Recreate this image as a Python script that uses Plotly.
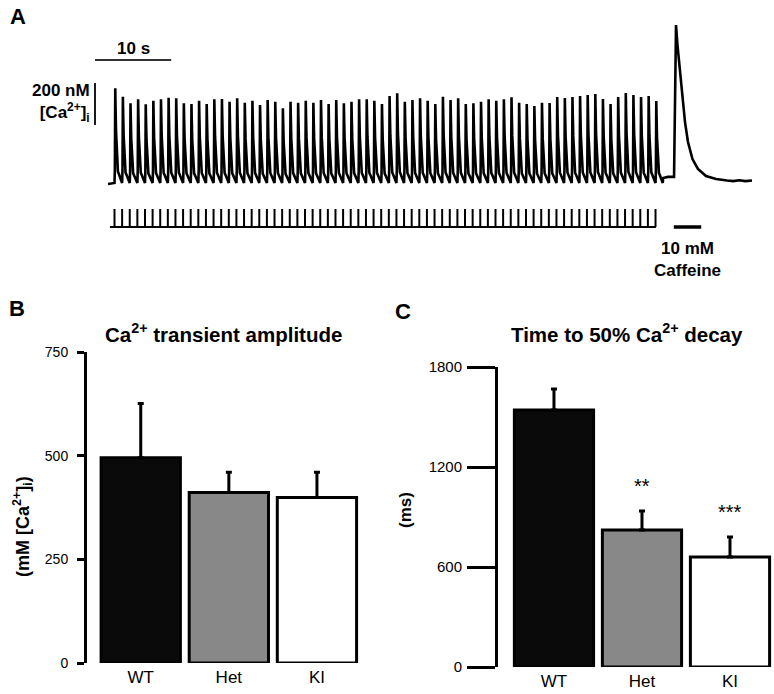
import plotly.graph_objects as go

W, H = 774, 694
FONT = "Liberation Sans, Arial, Helvetica, sans-serif"

# ---------------- Panel A data ----------------
N_BEATS = 72
PACING_INTERVAL_S = 1.0
beat_amp_nM = [451, 411, 380, 399, 375, 392, 399, 406, 403, 380, 376, 392, 376, 399, 400,
               387, 403, 382, 392, 371, 395, 387, 356, 387, 382, 392, 382, 395, 376, 395,
               380, 387, 399, 399, 392, 376, 414, 427, 387, 395, 403, 392, 376, 411, 395,
               403, 376, 380, 387, 399, 392, 399, 408, 382, 376, 367, 382,
               381, 410, 405, 410, 414, 419, 424, 400, 376, 410, 429, 419, 410, 414, 390]
# normalised shape of one paced transient (time after stimulus, fraction of peak)
beat_shape_t = [0.0, 0.05, 0.10, 0.14, 0.20, 0.28, 0.36, 0.45, 0.55, 0.68, 0.82, 0.95]
beat_shape_frac = [0.0, 0.15, 1.0, 0.80, 0.55, 0.33, 0.19, 0.12, 0.10, 0.07, 0.03, 0.0]
pre_t = [-0.85, -0.3]
pre_nM = [-5, 0]
caff_t = [72.0, 72.64, 73.43, 73.56, 73.69, 73.88, 74.21, 74.54, 74.87, 75.26, 75.85,
          76.57, 77.62, 78.94, 79.7, 80.4, 81.17, 82.0, 82.8, 83.66]
caff_nM = [24, 29, 29, 395, 752, 657, 529, 400, 290, 195, 114,
           67, 33, 19, 14, 12, 9, 13, 9, 12]
caff_on_s, caff_off_s = 73.4, 77.0
scale_time_s = 10
scale_ca_nM = 200

# ---------------- Panels B / C data ----------------
groups = ["WT", "Het", "KI"]
amp_mean = [495, 411, 399]
amp_sem = [131, 49, 61]
decay_mean = [1542, 822, 660]
decay_sem = [126, 114, 120]
stars = ["", "**", "***"]
bar_colors = ["#0a0a0a", "#888888", "#ffffff"]

# ---------------- layout helpers ----------------
def fx(px):
    return px / W

def fy(py):
    return 1 - py / H

# panel A pixel mapping
A_T0_PX, A_PX_PER_S = 114.5, 7.62
A_BASE_PY, A_PX_PER_NM = 183, 0.21
A_BOT_PY = 290
STIM_Y = -(227 - A_BASE_PY) / A_PX_PER_NM
STIM_H = 18 / A_PX_PER_NM
SB_X = (95 - A_T0_PX) / A_PX_PER_S
SB_VBOT = (A_BASE_PY - 125) / A_PX_PER_NM
SB_HY = (A_BASE_PY - 60) / A_PX_PER_NM

# build the paced trace
tx, ty = list(pre_t), list(pre_nM)
for k in range(N_BEATS):
    for ts, fr in zip(beat_shape_t, beat_shape_frac):
        tx.append(k * PACING_INTERVAL_S + ts)
        ty.append(beat_amp_nM[k] * fr)
tx += caff_t
ty += caff_nM

# stimulus marker trace
sx = [-0.6, (N_BEATS - 1) * PACING_INTERVAL_S + 0.05, None]
sy = [STIM_Y, STIM_Y, None]
for k in range(N_BEATS):
    sx += [k * PACING_INTERVAL_S, k * PACING_INTERVAL_S, None]
    sy += [STIM_Y, STIM_Y + STIM_H, None]

fig = go.Figure()

fig.add_trace(go.Scatter(x=tx, y=ty, mode="lines", line=dict(color="black", width=2.6),
                         xaxis="x3", yaxis="y3", hoverinfo="skip"))
fig.add_trace(go.Scatter(x=sx, y=sy, mode="lines", line=dict(color="black", width=2),
                         xaxis="x3", yaxis="y3", hoverinfo="skip"))
# caffeine application bar
fig.add_trace(go.Scatter(x=[caff_on_s, caff_off_s], y=[STIM_Y, STIM_Y], mode="lines",
                         line=dict(color="black", width=3.5), xaxis="x3", yaxis="y3"))
# scale bars
fig.add_trace(go.Scatter(x=[SB_X, SB_X + scale_time_s], y=[SB_HY, SB_HY], mode="lines",
                         line=dict(color="#333", width=1.8), xaxis="x3", yaxis="y3"))
fig.add_trace(go.Scatter(x=[SB_X, SB_X], y=[SB_VBOT, SB_VBOT + scale_ca_nM], mode="lines",
                         line=dict(color="black", width=1.8), xaxis="x3", yaxis="y3"))

# bar charts
for xa, ya, mean, sem in (("x", "y", amp_mean, amp_sem), ("x2", "y2", decay_mean, decay_sem)):
    fig.add_trace(go.Bar(
        x=groups, y=mean, xaxis=xa, yaxis=ya, width=0.9,
        marker=dict(color=bar_colors, line=dict(color="black", width=3)),
        error_y=dict(type="data", array=sem, arrayminus=[0] * len(sem), symmetric=False,
                     thickness=3, width=3, color="black"),
        hoverinfo="skip"))

ann = []
def txt(px, py, text, size, bold=True, **kw):
    t = f"<b>{text}</b>" if bold else text
    d = dict(x=fx(px), y=fy(py), xref="paper", yref="paper", text=t, showarrow=False,
             font=dict(family=FONT, size=size, color="black"), xanchor="center", yanchor="middle")
    d.update(kw)
    ann.append(d)

txt(18, 17, "A", 22)
txt(17, 308, "B", 22)
txt(403, 311, "C", 22)
txt(224, 333, "Ca<sup>2+</sup> transient amplitude", 20.5)
txt(627, 333, "Time to 50% Ca<sup>2+</sup> decay", 20.5)
txt(22, 527, "(mM [Ca<sup>2+</sup>]<sub>i</sub>)", 18, textangle=-90)
txt(405, 510, "(ms)", 17, textangle=-90)

# panel A labels tied to data coordinates
ann.append(dict(x=SB_X + scale_time_s / 2, y=SB_HY, xref="x3", yref="y3", yanchor="bottom",
                yshift=0, text="<b>10 s</b>", showarrow=False,
                font=dict(family=FONT, size=17, color="black")))
ann.append(dict(x=SB_X, y=SB_VBOT + scale_ca_nM / 2, xref="x3", yref="y3", xanchor="right",
                xshift=-3, yshift=1, align="right", showarrow=False,
                text="<b>200 nM</b><br><b>[Ca<sup>2+</sup>]<sub>i</sub></b>",
                font=dict(family=FONT, size=17, color="black")))
ann.append(dict(x=(caff_on_s + caff_off_s) / 2, y=STIM_Y, xref="x3", yref="y3", yanchor="top",
                yshift=-10, showarrow=False, text="<b>10 mM</b><br><b>Caffeine</b>",
                font=dict(family=FONT, size=17, color="black")))

for g, m, s, st in zip(groups, decay_mean, decay_sem, stars):
    if st:
        ann.append(dict(x=g, y=m + s, xref="x2", yref="y2", yanchor="middle", yshift=25,
                        text=st, showarrow=False, font=dict(family=FONT, size=20, color="black")))

common_y = dict(showgrid=False, zeroline=False, showline=True, linecolor="black", linewidth=3,
                ticks="outside", tickcolor="black", tickwidth=3, automargin=False,
                tickfont=dict(family=FONT, size=14, color="black"))
common_x = dict(showgrid=False, zeroline=False, showline=False, ticks="", type="category",
                automargin=False,
                tickfont=dict(family=FONT, size=17, color="black"), ticklabelstandoff=2)

fig.update_layout(
    width=W, height=H, margin=dict(l=0, r=0, t=0, b=0, pad=0, autoexpand=False),
    showlegend=False,
    paper_bgcolor="white", plot_bgcolor="rgba(0,0,0,0)",
    xaxis=dict(domain=[fx(87), fx(361)], range=[-0.61, 2.5], anchor="y", **common_x),
    yaxis=dict(domain=[fy(663), fy(352)], range=[0, 750], tickvals=[0, 250, 500, 750],
               ticklen=7, anchor="x", ticklabelstandoff=6, **common_y),
    xaxis2=dict(domain=[fx(498), 1.0], range=[-0.636, 2.5], anchor="y2", **common_x),
    yaxis2=dict(domain=[fy(667), fy(367)], range=[0, 1800], tickvals=[0, 600, 1200, 1800],
                ticklen=28, anchor="x2", ticklabelstandoff=2, **common_y),
    xaxis3=dict(domain=[0, 1], range=[-A_T0_PX / A_PX_PER_S, (W - A_T0_PX) / A_PX_PER_S],
                visible=False, anchor="y3", automargin=False),
    yaxis3=dict(domain=[fy(A_BOT_PY), 1],
                range=[-(A_BOT_PY - A_BASE_PY) / A_PX_PER_NM, A_BASE_PY / A_PX_PER_NM],
                visible=False, anchor="x3", automargin=False),
    annotations=ann,
)
fig.update_yaxes(selector=dict(anchor="x2"), tickfont=dict(family=FONT, size=15, color="black"))

post = (
    "var gd=document.getElementById('{plot_id}');"
    "gd.style.position='fixed';gd.style.top='0px';gd.style.left='0px';"
    "document.body.style.margin='0';document.body.style.padding='0';"
    "document.body.style.overflow='hidden';document.documentElement.style.overflow='hidden';"
)
fig.write_html("out.html", config={"displayModeBar": False, "staticPlot": True},
               post_script=post)
